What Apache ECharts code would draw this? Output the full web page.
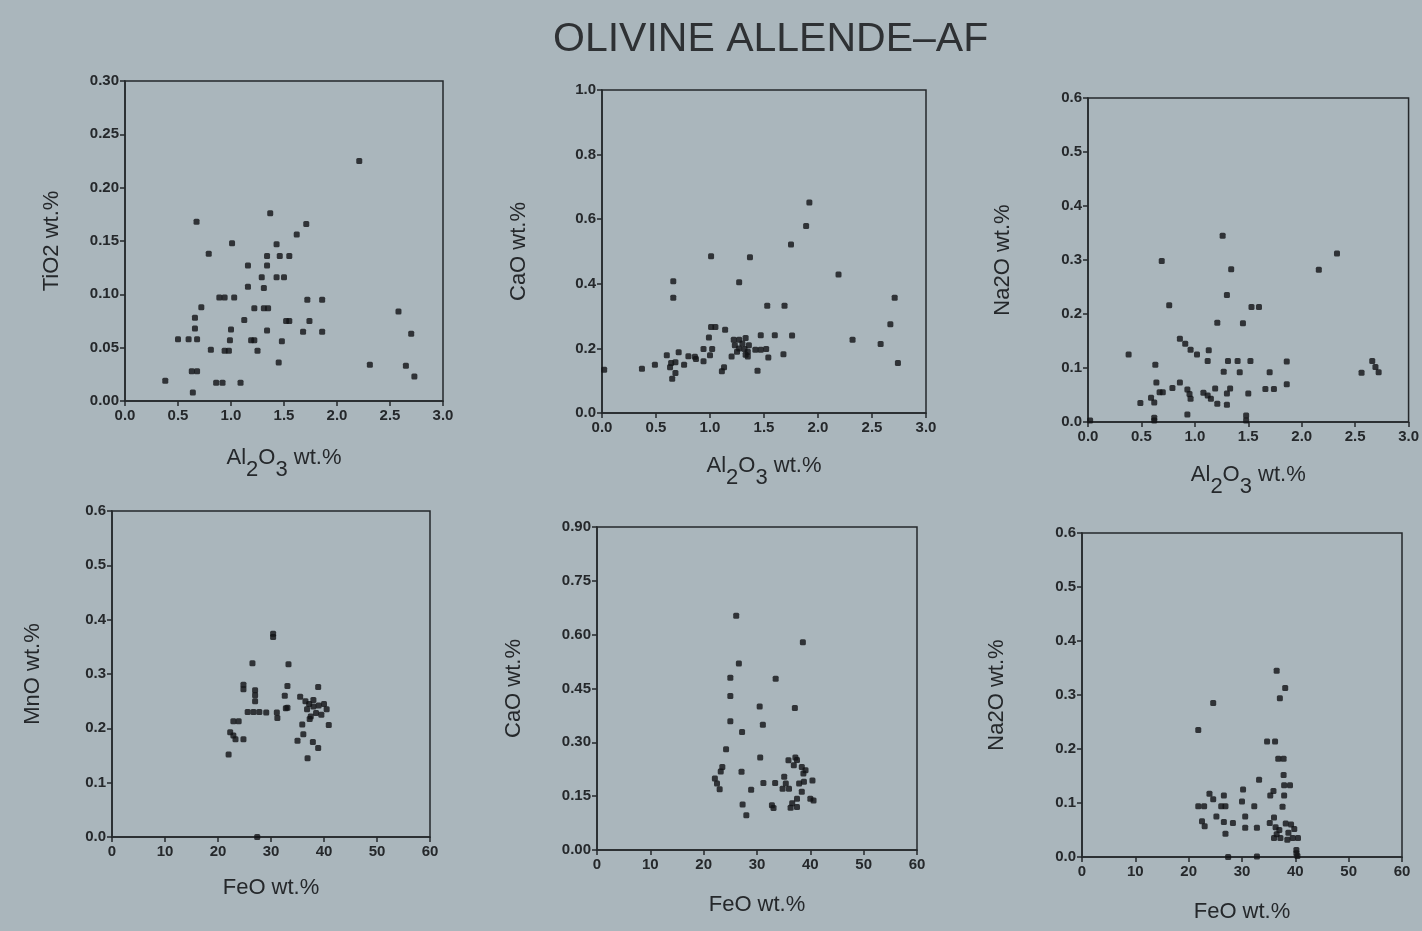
<!DOCTYPE html>
<html>
<head>
<meta charset="utf-8">
<script src="https://cdn.jsdelivr.net/npm/echarts@6/dist/echarts.min.js"></script>
<style>
html,body{margin:0;padding:0;background:#aab6bc;}
#chart{width:1422px;height:931px;}
</style>
</head>
<body>
<div id="chart"></div>
<script>
// ---- data ----
var tio2VsAl2o3 = [[2.21,0.225],[1.37,0.176],[0.675,0.168],[1.71,0.166],[1.62,0.156],[1.01,0.148],[1.43,0.147],[0.79,0.138],[1.34,0.136],[1.46,0.136],[1.55,0.136],[1.16,0.127],[1.34,0.127],[1.29,0.116],[1.43,0.116],[1.50,0.116],[1.16,0.107],[1.31,0.106],[0.89,0.097],[0.94,0.097],[1.03,0.097],[1.72,0.095],[1.86,0.095],[0.72,0.088],[1.22,0.087],[1.31,0.087],[1.35,0.087],[2.58,0.084],[0.66,0.078],[1.125,0.076],[1.52,0.075],[1.55,0.075],[1.74,0.075],[0.66,0.068],[1.0,0.067],[1.34,0.066],[1.68,0.065],[1.86,0.065],[2.70,0.063],[0.50,0.058],[0.60,0.058],[0.68,0.058],[0.99,0.057],[1.19,0.057],[1.22,0.057],[1.48,0.056],[0.81,0.048],[0.94,0.047],[0.98,0.047],[1.25,0.047],[1.45,0.036],[2.31,0.034],[2.65,0.033],[0.63,0.028],[0.68,0.028],[0.38,0.019],[0.86,0.017],[0.92,0.017],[1.09,0.017],[2.73,0.023],[0.64,0.008]];
var caoVsAl2o3 = [[1.92,0.652],[1.89,0.579],[1.75,0.522],[1.01,0.485],[1.37,0.482],[2.19,0.429],[0.66,0.408],[1.27,0.405],[0.66,0.357],[2.71,0.357],[1.53,0.332],[1.69,0.332],[2.67,0.275],[1.01,0.266],[1.05,0.266],[1.14,0.258],[1.47,0.241],[1.60,0.241],[1.76,0.240],[0.99,0.234],[2.32,0.227],[1.22,0.227],[1.27,0.227],[1.33,0.232],[2.58,0.214],[1.23,0.21],[1.30,0.215],[1.36,0.21],[1.32,0.198],[1.35,0.19],[1.33,0.18],[0.94,0.198],[1.02,0.198],[1.42,0.196],[1.47,0.196],[1.52,0.198],[0.71,0.188],[0.60,0.179],[0.80,0.176],[0.86,0.174],[1.0,0.179],[1.68,0.182],[1.20,0.175],[1.35,0.175],[1.54,0.172],[0.94,0.16],[0.87,0.167],[0.64,0.155],[0.68,0.157],[2.74,0.155],[0.49,0.149],[0.76,0.149],[0.63,0.142],[0.37,0.137],[1.13,0.142],[1.11,0.129],[0.02,0.134],[1.44,0.131],[0.68,0.124],[0.65,0.106],[1.27,0.20],[1.25,0.19]];
var na2oVsAl2o3 = [[1.26,0.345],[2.33,0.312],[0.69,0.298],[1.34,0.283],[2.16,0.282],[1.30,0.235],[0.76,0.216],[1.53,0.213],[1.60,0.213],[1.21,0.184],[1.45,0.183],[0.86,0.154],[0.91,0.145],[0.96,0.134],[1.02,0.125],[1.13,0.133],[0.38,0.125],[1.12,0.113],[1.31,0.113],[1.40,0.113],[1.52,0.113],[1.86,0.112],[0.63,0.106],[2.66,0.113],[2.69,0.102],[2.72,0.092],[2.56,0.091],[1.27,0.093],[1.42,0.092],[1.70,0.092],[0.64,0.073],[0.86,0.073],[1.86,0.070],[0.79,0.063],[0.93,0.060],[0.95,0.052],[0.96,0.043],[0.67,0.055],[0.70,0.055],[1.08,0.054],[1.12,0.049],[1.15,0.043],[1.19,0.062],[1.33,0.062],[1.30,0.053],[1.66,0.061],[1.74,0.061],[1.50,0.053],[0.59,0.045],[0.62,0.036],[0.49,0.035],[1.21,0.034],[1.30,0.032],[0.93,0.014],[0.62,0.003],[0.62,0.008],[1.48,0.012],[1.48,0.003],[0.02,0.003]];
var mnoVsFeo = [[30.4,0.374],[30.4,0.368],[26.5,0.320],[33.3,0.318],[24.8,0.280],[24.8,0.272],[33.1,0.278],[38.9,0.276],[27.0,0.270],[27.0,0.261],[27.0,0.250],[32.6,0.260],[33.1,0.238],[25.6,0.230],[26.7,0.230],[27.8,0.230],[29.1,0.229],[31.1,0.229],[31.2,0.219],[22.9,0.213],[23.9,0.213],[35.9,0.207],[40.9,0.206],[22.3,0.193],[22.9,0.187],[23.3,0.180],[24.8,0.180],[36.1,0.189],[35.0,0.177],[37.9,0.175],[38.9,0.164],[22.0,0.152],[36.9,0.145],[27.4,0.0],[35.5,0.258],[36.5,0.250],[37.2,0.245],[38.0,0.240],[39.0,0.242],[40.0,0.245],[36.8,0.235],[38.5,0.228],[39.5,0.225],[37.5,0.222],[40.5,0.235],[38.0,0.252],[37.3,0.217],[32.8,0.237]];
var caoVsFeo = [[26.1,0.653],[38.6,0.579],[26.6,0.520],[25.0,0.480],[33.5,0.477],[25.0,0.429],[30.5,0.400],[37.1,0.396],[25.0,0.359],[31.1,0.349],[27.2,0.329],[24.2,0.281],[30.6,0.258],[23.5,0.231],[23.2,0.219],[27.1,0.218],[22.1,0.199],[22.5,0.185],[23.0,0.169],[31.2,0.187],[33.4,0.187],[28.9,0.168],[27.3,0.127],[32.8,0.125],[33.1,0.117],[28.0,0.097],[35.9,0.250],[37.5,0.251],[36.9,0.236],[38.4,0.231],[39.1,0.222],[38.7,0.213],[35.1,0.204],[35.4,0.185],[34.8,0.171],[36.0,0.171],[37.9,0.185],[38.8,0.190],[40.4,0.194],[38.4,0.162],[37.5,0.143],[36.6,0.130],[37.5,0.120],[40.0,0.143],[40.6,0.138],[37.2,0.258],[36.3,0.118]];
var na2oVsFeo = [[36.5,0.345],[38.1,0.313],[37.1,0.294],[24.6,0.285],[21.8,0.235],[34.7,0.214],[36.2,0.214],[36.8,0.182],[37.8,0.182],[37.8,0.152],[33.2,0.143],[37.9,0.133],[39.0,0.133],[30.2,0.125],[35.9,0.122],[35.3,0.114],[37.9,0.114],[23.9,0.117],[24.6,0.107],[26.6,0.114],[30.0,0.103],[21.8,0.094],[22.9,0.094],[26.1,0.094],[26.9,0.094],[32.3,0.094],[37.6,0.093],[25.2,0.075],[30.6,0.075],[36.0,0.073],[22.5,0.066],[23.0,0.057],[26.6,0.065],[28.3,0.063],[30.6,0.054],[32.8,0.054],[26.9,0.043],[35.2,0.063],[36.3,0.055],[37.0,0.050],[36.5,0.042],[37.2,0.035],[36.0,0.035],[38.2,0.062],[39.2,0.060],[39.8,0.052],[38.7,0.045],[39.5,0.035],[40.5,0.035],[38.5,0.032],[40.2,0.013],[40.2,0.007],[40.4,0.002],[32.8,0.001],[27.4,0.0]];

var titleText = 'OLIVINE ALLENDE\u2013AF';
var xNames = ['al','al','al','FeO wt.%','FeO wt.%','FeO wt.%'];
var yNames = ['TiO2 wt.%','CaO wt.%','Na2O wt.%','MnO wt.%','CaO wt.%','Na2O wt.%'];
var xRanges = [[0,3,0.5],[0,3,0.5],[0,3,0.5],[0,60,10],[0,60,10],[0,60,10]];
var yRanges = [[0,0.3,0.05],[0,1.0,0.2],[0,0.6,0.1],[0,0.6,0.1],[0,0.9,0.15],[0,0.6,0.1]];
var xDecimals = [1,1,1,0,0,0];
var yDecimals = [2,1,1,1,2,1];
var panelData = [tio2VsAl2o3, caoVsAl2o3, na2oVsAl2o3, mnoVsFeo, caoVsFeo, na2oVsFeo];

// ---- layout ----
var boxes = [
  {left:125, top:81, width:318, height:320},
  {left:602, top:90, width:324, height:323},
  {left:1088, top:98, width:321, height:324},
  {left:112, top:511, width:318, height:326},
  {left:597, top:527, width:320, height:323},
  {left:1082, top:533, width:320, height:324}
];
var yGaps = [62,72,74,68,72,74];
var xGaps = [46,42,42,40,44,44];

var ink = '#25282b';
var fontFam = '"Liberation Sans", Arial, sans-serif';
var rich = {
  n: {fontSize:22, color:ink, fontFamily:fontFam, lineHeight:34, verticalAlign:'top'},
  s: {fontSize:22, color:ink, fontFamily:fontFam, lineHeight:34, verticalAlign:'bottom', padding:[12,0,0,0]}
};

var grids=[], xAxes=[], yAxes=[], series=[];
for (var i=0;i<6;i++){
  var b = boxes[i];
  grids.push({left:b.left, top:b.top, width:b.width, height:b.height, show:true, borderColor:ink, borderWidth:1.5, backgroundColor:'transparent'});
  (function(i){
    var xn = xNames[i]==='al' ? '{n|Al}{s|2}{n|O}{s|3}{n| wt.%}' : xNames[i];
    xAxes.push({
      type:'value', gridIndex:i, min:xRanges[i][0], max:xRanges[i][1], interval:xRanges[i][2],
      name: xn, nameLocation:'middle', nameGap: xGaps[i],
      nameTextStyle:{fontSize:22, color:ink, fontFamily:fontFam, rich:rich},
      axisLine:{show:true, lineStyle:{color:ink, width:1.5}},
      axisTick:{show:true, length:5, lineStyle:{color:ink, width:1.5}},
      splitLine:{show:false},
      axisLabel:{color:ink, fontSize:15, fontWeight:'bold', fontFamily:fontFam, margin:7,
        formatter:function(v){return v.toFixed(xDecimals[i]);}}
    });
    yAxes.push({
      type:'value', gridIndex:i, min:yRanges[i][0], max:yRanges[i][1], interval:yRanges[i][2],
      name: yNames[i], nameLocation:'middle', nameGap: yGaps[i], nameRotate:90,
      nameTextStyle:{fontSize:22, color:ink, fontFamily:fontFam},
      axisLine:{show:true, lineStyle:{color:ink, width:1.5}},
      axisTick:{show:true, length:5, lineStyle:{color:ink, width:1.5}},
      splitLine:{show:false},
      axisLabel:{color:ink, fontSize:15, fontWeight:'bold', fontFamily:fontFam, margin:6,
        formatter:function(v){return v.toFixed(yDecimals[i]);}}
    });
  })(i);
  series.push({type:'scatter', xAxisIndex:i, yAxisIndex:i, data:panelData[i], symbol:'roundRect', symbolSize:6,
    itemStyle:{color:'#111315'}, silent:true, clip:false});
}

var chart = echarts.init(document.getElementById('chart'), null, {renderer:'canvas'});
chart.setOption({
  backgroundColor:'#aab6bc',
  animation:false,
  title:{text:titleText, left:548, top:14, textStyle:{fontSize:41, fontWeight:'normal', color:'#2e3134', fontFamily:fontFam}},
  grid:grids, xAxis:xAxes, yAxis:yAxes, series:series
});
</script>
</body>
</html>
